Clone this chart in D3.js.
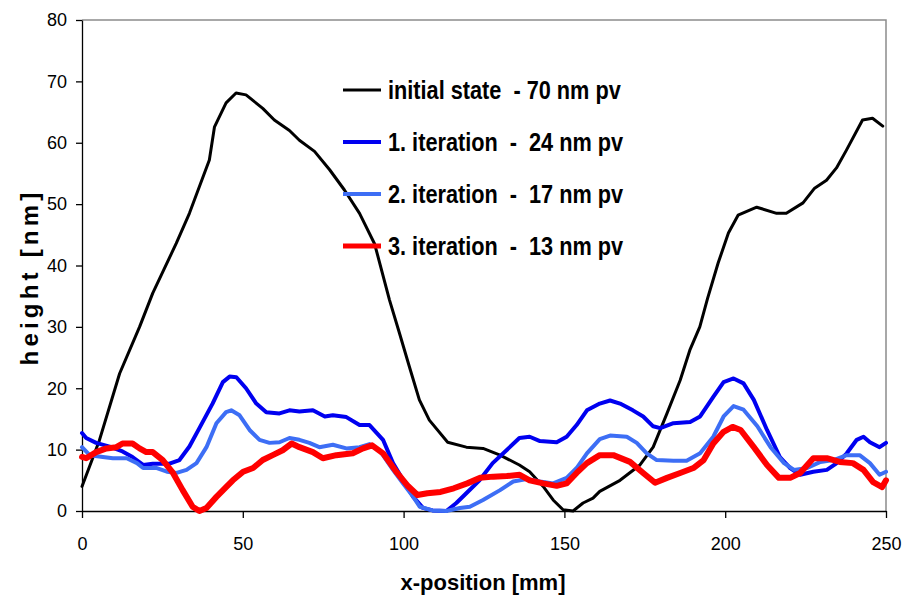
<!DOCTYPE html>
<html>
<head>
<meta charset="utf-8">
<script src="https://cdn.jsdelivr.net/npm/d3@7"></script>
<style>
  body { margin: 0; background: #fff; }
  svg { display: block; }
</style>
</head>
<body>
<div id="chart"></div>
<script>
// profile data: [x-position mm, height nm]
var initialState = [
  [0, 4], [5.4, 11.5], [11.7, 22.4], [17.9, 30], [22, 35.5], [29.3, 43.6], [33.4, 48.5],
  [39.6, 57.2], [41.2, 62.6], [44.8, 66.5], [47.9, 68.1], [51, 67.8], [56.2, 65.6],
  [59.8, 63.7], [64.5, 62], [67.6, 60.4], [72.3, 58.6], [77, 55.6], [81.6, 52.3],
  [86.3, 48.5], [91, 43.5], [95.6, 34.4], [98.7, 29], [101.8, 23.5], [104.9, 18.1],
  [108, 14.8], [113.7, 11.2], [119.5, 10.4], [124.7, 10.2], [130, 9.1], [136, 7.5],
  [139.2, 6.4], [143.4, 4], [146.5, 1.8], [149.6, 0.2], [152.7, 0], [155.8, 1.3],
  [158.9, 2.1], [161, 3.2], [167.3, 5], [173.5, 7.5], [177.6, 10.4], [181.9, 15.9],
  [186, 21.3], [189, 26.2], [192.1, 30], [194.5, 34.6], [197.8, 40.4], [201, 45.3],
  [204, 48.2], [209.8, 49.5], [216, 48.5], [219, 48.5], [224.2, 50.2], [227.8, 52.6],
  [231.5, 53.9], [234.6, 55.9], [237.7, 58.8], [242.7, 63.7], [245.8, 64], [249, 62.7]
];

var iteration1 = [
  [0, 12.7], [1.3, 11.9], [4.4, 11.1], [8.6, 10.5], [12.6, 9.7], [15.7, 8.8], [19, 7.5],
  [22, 7.7], [27.2, 7.7], [30.3, 8.3], [33.4, 10.5], [36.5, 13.5], [40.6, 17.5],
  [43.8, 21], [45.9, 21.9], [48, 21.8], [51, 20], [54.2, 17.5], [57.3, 16.1], [61.4, 15.9],
  [64.5, 16.4], [67.6, 16.2], [71.8, 16.4], [75.5, 15.4], [78, 15.6], [82.2, 15.3],
  [86.3, 14], [89.4, 14], [93.6, 11.6], [96.7, 7.8], [99.8, 5.1], [103, 2.3], [106, 0.5],
  [109, 0.1], [113.3, 0], [116.4, 1.3], [119.5, 2.9], [123.6, 5], [127.7, 7.8], [132, 9.9],
  [136, 11.9], [139.2, 12.1], [142.4, 11.4], [147.6, 11.2], [150.7, 12.1], [153.8, 14],
  [157, 16.4], [161, 17.5], [164.2, 18], [167.3, 17.5], [171.3, 16.4], [174.5, 15.4],
  [177.6, 13.8], [179.8, 13.5], [183.9, 14.3], [189.1, 14.5], [192.2, 15.4], [196.3, 18.6],
  [199.5, 21], [202.6, 21.6], [205.7, 20.8], [208.9, 18.1], [213, 13.2], [217, 8.8],
  [220.2, 7], [223.3, 5.9], [227.4, 6.4], [231.6, 6.7], [234.7, 7.8], [237.8, 9.4],
  [240.9, 11.6], [243, 12.1], [245, 11.2], [248, 10.4], [250, 11.1]
];

var iteration2 = [
  [0, 10.4], [2.4, 9.1], [6.5, 8.8], [9.6, 8.6], [13.9, 8.6], [17.1, 7.8], [19, 7],
  [23.3, 7], [26.4, 6.4], [29.4, 6.2], [32.5, 6.7], [35.6, 7.8], [38.7, 10.4], [41.8, 14.3],
  [44.8, 16.1], [46.4, 16.4], [49, 15.6], [52.1, 13.2], [55.2, 11.6], [58.3, 11.1],
  [61.4, 11.2], [64.5, 11.9], [67.6, 11.6], [70.7, 11.1], [73.8, 10.4], [78, 10.8],
  [82.2, 10.2], [86.3, 10.4], [89.4, 10.9], [92.5, 9.9], [96.7, 6.7], [99.8, 4.5],
  [103, 2.3], [105, 0.7], [109, 0.1], [113.3, 0], [117.5, 0.5], [120.6, 0.7], [124.7, 1.8],
  [130, 3.4], [134.1, 4.8], [138.3, 5.2], [142.4, 4.8], [146.5, 4.5], [150.7, 5.4],
  [153.8, 7], [157, 9.4], [161, 11.7], [164.2, 12.3], [169.4, 12.1], [172.5, 11.1],
  [175.6, 9.4], [178.7, 8.3], [183.9, 8.2], [188, 8.2], [192.2, 9.4], [196.3, 12.1],
  [199.5, 15.4], [202.6, 17.1], [205.7, 16.5], [210, 13.8], [214.1, 10.4], [218.3, 7.8],
  [221.4, 6.7], [225.5, 7], [229.6, 8], [233.7, 8.3], [237.8, 9.1], [241.8, 9.1],
  [245, 7.8], [248, 5.9], [250, 6.4]
];

var iteration3 = [
  [0, 8.8], [1.3, 8.6], [4.4, 9.6], [7.6, 10.2], [10.7, 10.4], [12.6, 11], [15.7, 11],
  [17.9, 10.2], [20, 9.6], [22, 9.6], [25.1, 8.3], [28.3, 6.2], [31.3, 3.4], [34.4, 0.7],
  [36.5, 0], [38.7, 0.5], [41.8, 2.3], [44.8, 3.9], [46.9, 5], [50.1, 6.4], [53.2, 7],
  [56.2, 8.3], [59.3, 9.1], [62.4, 9.9], [65.2, 11], [67.6, 10.4], [71.8, 9.6], [74.9, 8.6],
  [79.1, 9.1], [84.2, 9.4], [87.4, 10.2], [90.2, 10.7], [93.6, 9.4], [98, 6.2], [101.1, 4.2],
  [104.3, 2.6], [107.4, 2.9], [111.5, 3.1], [115.6, 3.7], [119.8, 4.5], [123.8, 5.4],
  [127.9, 5.6], [132.1, 5.7], [136.1, 5.9], [139.2, 5], [143.4, 4.5], [147.6, 4.1],
  [150.7, 4.5], [153.8, 6.2], [157, 7.8], [161, 9.1], [165.2, 9.1], [170.4, 8], [174.5, 6.2],
  [178.2, 4.6], [181.9, 5.4], [186, 6.2], [190.1, 7], [193.3, 8.3], [196.3, 11],
  [199.5, 12.9], [202.3, 13.7], [204.8, 13.2], [208.9, 10.4], [213, 7.5], [216.7, 5.4],
  [220.2, 5.4], [223.3, 6.2], [227.4, 8.6], [231.6, 8.6], [235.6, 8], [239.7, 7.8],
  [243, 6.7], [246, 4.7], [248.8, 3.9], [250, 5]
];

var seriesNames = [
  "initial state  - 70 nm pv",
  "1. iteration  -  24 nm pv",
  "2. iteration  -  17 nm pv",
  "3. iteration  -  13 nm pv"
];
var seriesData = [initialState, iteration1, iteration2, iteration3];
var seriesColors = ["#000000", "#0000f0", "#3d6ef5", "#ff0000"];
var seriesWidths = [3, 4, 4, 6];

var xTicks = [0, 50, 100, 150, 200, 250];
var yTicks = [0, 10, 20, 30, 40, 50, 60, 70, 80];

var margin = {top: 20, right: 16, bottom: 93, left: 82},
    width = 902 - margin.left - margin.right,
    height = 604 - margin.top - margin.bottom;

var svg = d3.select("#chart")
    .append("svg")
    .attr("width", 902)
    .attr("height", 604);

var g = svg.append("g")
    .attr("transform", "translate(" + margin.left + "," + margin.top + ")");

var x = d3.scaleLinear().domain([0, 250]).range([0, width]);
var y = d3.scaleLinear().domain([0, 80]).range([height, 0]);

// grey frame on top and right
g.append("path")
    .attr("d", "M0,0H" + width + "V" + height)
    .attr("fill", "none")
    .attr("stroke", "#8c8c8c")
    .attr("stroke-width", 1.5);

// X axis
var xAxis = g.append("g")
    .attr("transform", "translate(0," + height + ")")
    .call(d3.axisBottom(x).tickValues(xTicks).tickSize(7).tickSizeOuter(0).tickPadding(19));
xAxis.selectAll("text")
    .style("font-family", "'Liberation Sans', Arial, sans-serif")
    .style("font-size", "18px")
    .attr("fill", "#000");

// Y axis
var yAxis = g.append("g")
    .call(d3.axisLeft(y).tickValues(yTicks).tickSize(6).tickSizeOuter(0).tickPadding(9));
yAxis.selectAll("text")
    .style("font-family", "'Liberation Sans', Arial, sans-serif")
    .style("font-size", "18px")
    .attr("fill", "#000");

g.selectAll(".domain, .tick line").attr("stroke", "#000").attr("stroke-width", 1.3);

// lines
var line = d3.line()
    .x(function(d) { return x(d[0]); })
    .y(function(d) { return y(d[1]); });

g.selectAll(".series")
    .data(seriesData)
    .enter()
    .append("path")
    .attr("class", "series")
    .attr("d", line)
    .attr("fill", "none")
    .attr("stroke", function(d, i) { return seriesColors[i]; })
    .attr("stroke-width", function(d, i) { return seriesWidths[i]; })
    .attr("stroke-linejoin", "round")
    .attr("stroke-linecap", "round");

// legend (text squeezed horizontally to mimic a narrow bold face)
var legend = svg.append("g").attr("transform", "translate(343,90)");
var rows = legend.selectAll("g")
    .data(seriesNames)
    .enter()
    .append("g")
    .attr("transform", function(d, i) { return "translate(0," + (i * 52) + ")"; });
rows.append("line")
    .attr("x1", 0).attr("x2", 38)
    .attr("stroke", function(d, i) { return seriesColors[i]; })
    .attr("stroke-width", function(d, i) { return Math.min(seriesWidths[i], 5); });
rows.append("text")
    .attr("transform", "translate(45,9)scale(0.835,1)")
    .style("font-family", "'Liberation Sans', Arial, sans-serif")
    .style("font-weight", "bold")
    .style("font-size", "26px")
    .style("white-space", "pre")
    .attr("xml:space", "preserve")
    .text(function(d) { return d; });

// axis titles
svg.append("text")
    .attr("x", 483)
    .attr("y", 590)
    .attr("text-anchor", "middle")
    .style("font-family", "'Liberation Sans', Arial, sans-serif")
    .style("font-weight", "bold")
    .style("font-size", "22px")
    .text("x-position [mm]");

svg.append("text")
    .attr("transform", "translate(38,277)rotate(-90)")
    .attr("text-anchor", "middle")
    .style("font-family", "'Liberation Sans', Arial, sans-serif")
    .style("font-weight", "bold")
    .style("font-size", "24px")
    .style("letter-spacing", "4.2px")
    .text("height [nm]");
</script>
</body>
</html>
